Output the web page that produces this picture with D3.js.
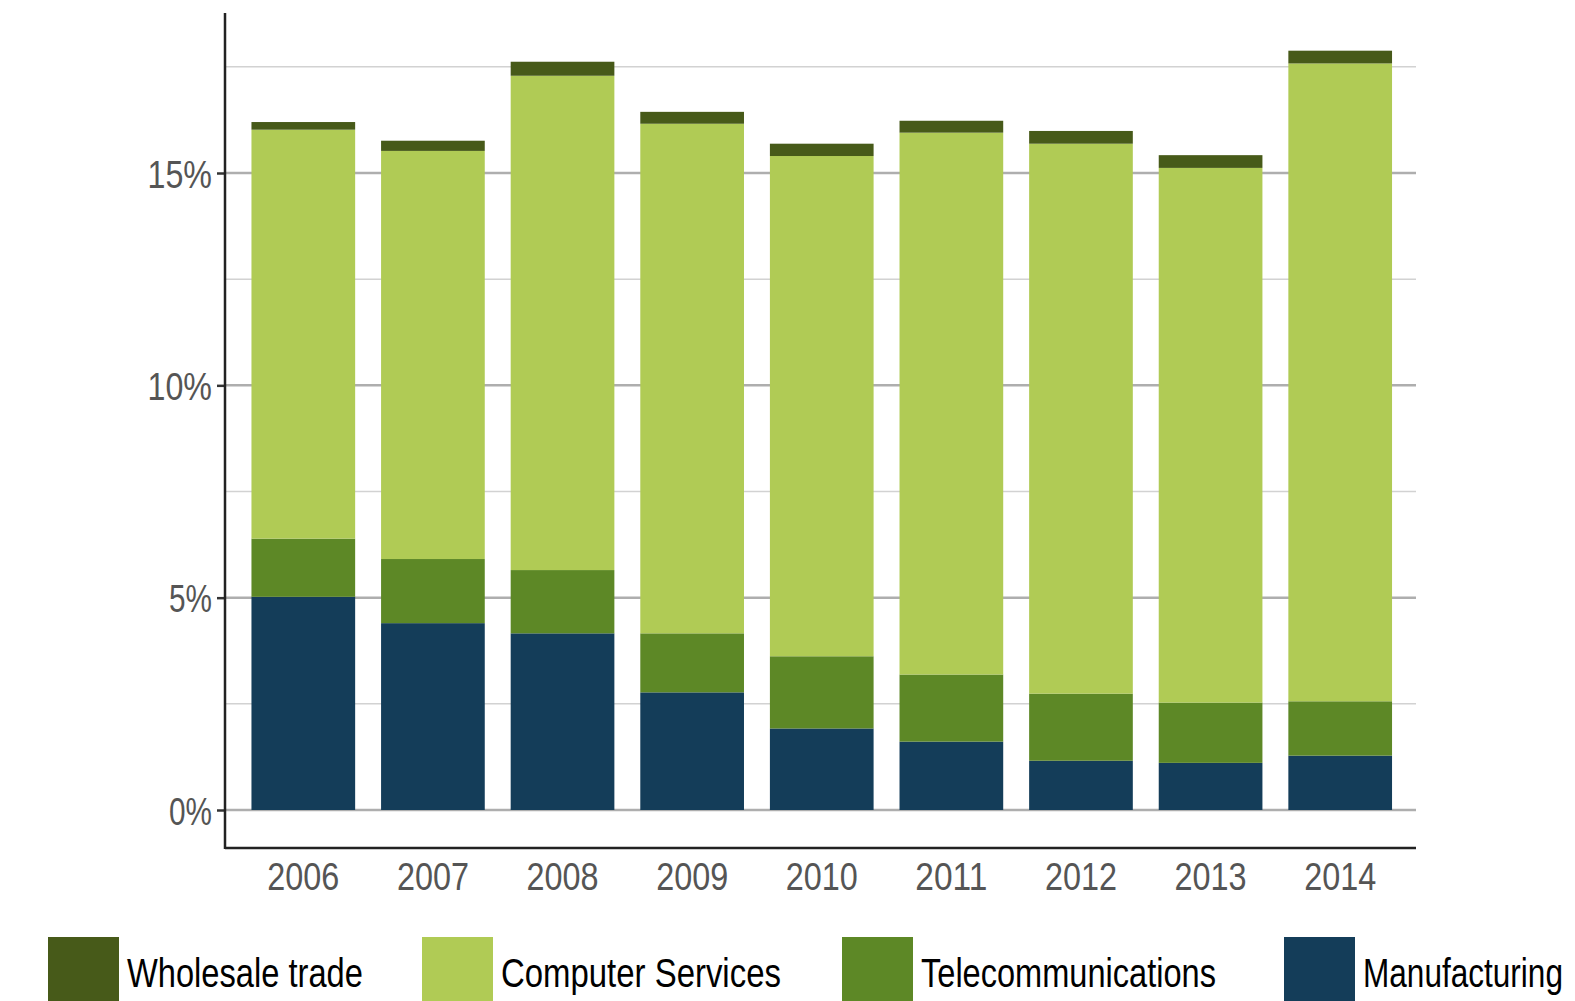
<!DOCTYPE html>
<html>
<head>
<meta charset="utf-8">
<script src="https://cdn.jsdelivr.net/npm/d3@7"></script>
<style>
  body { margin: 0; background: #fff; }
  text { font-family: "Liberation Sans", "Roboto", sans-serif; }
</style>
</head>
<body>
<div id="chart-area"></div>
<script>
// data (percent)
var years = ["2006", "2007", "2008", "2009", "2010", "2011", "2012", "2013", "2014"];
var manufacturing = [5.02, 4.40, 4.16, 2.77, 1.92, 1.61, 1.16, 1.11, 1.28];
var telecom = [1.37, 1.51, 1.49, 1.39, 1.70, 1.58, 1.58, 1.42, 1.28];
var computer = [9.63, 9.61, 11.64, 12.00, 11.78, 12.76, 12.95, 12.59, 15.02];
var wholesale = [0.18, 0.24, 0.33, 0.28, 0.29, 0.28, 0.30, 0.30, 0.30];
var seriesNames = ["Manufacturing", "Telecommunications", "Computer Services", "Wholesale trade"];
var majorTicks = [0, 5, 10, 15];
var minorTicks = [2.5, 7.5, 12.5, 17.5];
var legendOrder = ["Wholesale trade", "Computer Services", "Telecommunications", "Manufacturing"];

var width = 1575, height = 1001;

var svg = d3.select("#chart-area")
    .append("svg")
    .attr("width", width)
    .attr("height", height);

// build table for stack
var rows = years.map((y, i) => ({
    year: y,
    "Manufacturing": manufacturing[i],
    "Telecommunications": telecom[i],
    "Computer Services": computer[i],
    "Wholesale trade": wholesale[i]
}));

var color = d3.scaleOrdinal()
    .domain(seriesNames)
    .range(["#143d59", "#5d8826", "#b0cb55", "#475a19"]);

// SCALES
var x = d3.scaleBand()
    .domain(years)
    .range([238.5, 1405])
    .paddingInner(0.2)
    .paddingOuter(0.1);

var y = d3.scaleLinear()
    .domain([0, 15])
    .range([810, 173]);

var left = 225, right = 1416, bottom = 848;

// the font is condensed in the original, squeeze to the same widths
function squeeze(sel, perChar) {
    sel.attr("lengthAdjust", "spacingAndGlyphs")
        .attr("textLength", function () { return this.textContent.length * perChar; });
}

// gridlines
svg.append("g").selectAll("line").data(minorTicks).enter().append("line")
    .attr("x1", left).attr("x2", right)
    .attr("y1", (d) => y(d)).attr("y2", (d) => y(d))
    .attr("stroke", "#d2d2d2").attr("stroke-width", 1.5);

svg.append("g").selectAll("line").data(majorTicks).enter().append("line")
    .attr("x1", left).attr("x2", right)
    .attr("y1", (d) => y(d)).attr("y2", (d) => y(d))
    .attr("stroke", "#aeaeae").attr("stroke-width", 2.5);

// bars
var stack = d3.stack().keys(seriesNames);
svg.append("g").selectAll("g")
    .data(stack(rows))
    .enter().append("g")
    .attr("fill", (d) => color(d.key))
    .selectAll("rect")
    .data((d) => d)
    .enter().append("rect")
    .attr("x", (d) => x(d.data.year))
    .attr("width", x.bandwidth())
    .attr("y", (d) => y(d[1]))
    .attr("height", (d) => y(d[0]) - y(d[1]));

// y axis
var leftAxis = d3.axisLeft(y)
    .tickValues(majorTicks)
    .tickSize(8)
    .tickPadding(5)
    .tickFormat((d) => d + "%");

var gy = svg.append("g")
    .attr("transform", "translate(" + left + ",0)")
    .call(leftAxis);
gy.select(".domain").remove();
gy.selectAll("line").attr("stroke", "#333").attr("stroke-width", 2.5);
gy.selectAll("text")
    .attr("font-size", "39px")
    .attr("fill", "#555")
    .attr("dy", "0.36em")
    .style("font-family", "'Liberation Sans', sans-serif")
    .call(squeeze, 21.5);

// axis lines
svg.append("line")
    .attr("x1", left).attr("x2", left)
    .attr("y1", 13).attr("y2", bottom + 1)
    .attr("stroke", "#222").attr("stroke-width", 2.5);
svg.append("line")
    .attr("x1", left).attr("x2", right)
    .attr("y1", bottom).attr("y2", bottom)
    .attr("stroke", "#222").attr("stroke-width", 2.5);

// x labels
var bottomAxis = d3.axisBottom(x).tickSize(0).tickPadding(0);
var gx = svg.append("g")
    .attr("transform", "translate(0," + bottom + ")")
    .call(bottomAxis);
gx.select(".domain").remove();
gx.selectAll("text")
    .attr("y", 42)
    .attr("dy", 0)
    .attr("font-size", "39px")
    .attr("fill", "#555")
    .style("font-family", "'Liberation Sans', sans-serif")
    .call(squeeze, 18);

// legend
var legendX = [48, 422, 842, 1284];
var legendW = [236, 280, 295, 200];
var legend = svg.append("g").selectAll("g")
    .data(legendOrder)
    .enter().append("g")
    .attr("transform", (d, i) => "translate(" + legendX[i] + ",937)");

legend.append("rect")
    .attr("width", 71)
    .attr("height", 64)
    .attr("fill", (d) => color(d));

// narrow the labels with a horizontal scale so their boxes stay inside
legend.append("text")
    .attr("font-size", "41px")
    .attr("fill", "#000")
    .text((d) => d)
    .attr("transform", function (d, i) {
        var k = legendW[i] / this.getComputedTextLength();
        return "translate(79,50) scale(" + k + ",1)";
    });
</script>
</body>
</html>
